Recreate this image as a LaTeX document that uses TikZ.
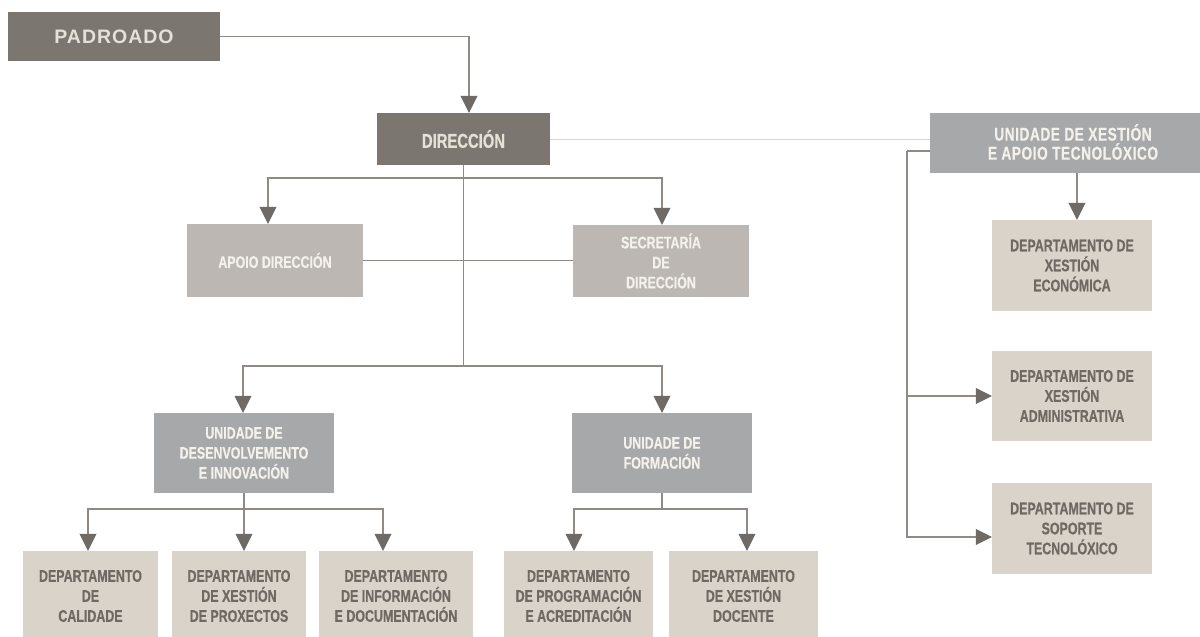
\documentclass[tikz,border=0pt]{standalone}
\usepackage{fontspec}
\setmainfont{Liberation Sans}
\newfontfamily\condf{Liberation Sans}[FakeStretch=0.74,FakeBold=0.5]
\newfontfamily\padf{Liberation Sans}[LetterSpace=5]
\usetikzlibrary{arrows.meta}
\definecolor{darkbox}{HTML}{7B766F}
\definecolor{graybox}{HTML}{A7A8AA}
\definecolor{lightbox}{HTML}{BCB7B2}
\definecolor{deptbox}{HTML}{D9D3C9}
\definecolor{depttext}{HTML}{6E6962}
\definecolor{paletext}{HTML}{F4F1EC}
\definecolor{padtext}{HTML}{E6E0D6}
\definecolor{linec}{HTML}{8F8A85}
\definecolor{arrowc}{HTML}{6F6A65}
\definecolor{thinc}{HTML}{D6D6D6}
\begin{document}
\begin{tikzpicture}[x=1pt,y=-1pt,
  box/.style={rectangle, inner sep=0pt, align=center,
    font=\condf\bfseries\fontsize{16.8}{20}\selectfont},
  darkstyle/.style={box, fill=darkbox, text=padtext},
  graystyle/.style={box, fill=graybox, text=paletext},
  lightstyle/.style={box, fill=lightbox, text=paletext},
  deptstyle/.style={box, fill=deptbox, text=depttext},
  conn/.style={draw=linec, line width=1.8pt},
  thinline/.style={draw=thinc, line width=1pt},
  arr/.style={conn, -{Triangle[width=17pt,length=17pt,line width=0.4pt,color=arrowc]}},
  arrh/.style={conn, -{Triangle[width=16pt,length=16pt,line width=0.4pt,color=arrowc]}}
]
\path[use as bounding box] (0,0) rectangle (1200,637);
\clip (0,0) rectangle (1200,637);

% boxes
\node[darkstyle, minimum width=212, minimum height=49,
  font=\padf\bfseries\fontsize{19.5}{22}\selectfont] (pad) at (114,36.5) {PADROADO};
\node[darkstyle, minimum width=173, minimum height=52,
  font=\condf\bfseries\fontsize{20}{22}\selectfont] (dir) at (463.5,139) {DIRECCIÓN};
\node[graystyle, minimum width=270, minimum height=60] (uxt) at (1065,143) {};
\node[box, text=paletext,
  font=\condf\bfseries\addfontfeature{LetterSpace=3}\fontsize{18.5}{19}\selectfont]
  (uxttext) at (1073,142) {UNIDADE DE XESTIÓN\\E APOIO TECNOLÓXICO};
\node[lightstyle, minimum width=176, minimum height=73] (apoio) at (275,260.5) {APOIO DIRECCIÓN};
\node[lightstyle, minimum width=176, minimum height=72] (sec) at (661,261) {SECRETARÍA\\DE\\DIRECCIÓN};
\node[graystyle, minimum width=180, minimum height=80] (udi) at (244,453) {UNIDADE DE\\DESENVOLVEMENTO\\E INNOVACIÓN};
\node[graystyle, minimum width=180, minimum height=80] (uf) at (662,453) {UNIDADE DE\\FORMACIÓN};

\node[deptstyle, minimum width=135, minimum height=90] (dc) at (90.5,596) {DEPARTAMENTO\\DE\\CALIDADE};
\node[deptstyle, minimum width=134, minimum height=90] (dxp) at (239,596) {DEPARTAMENTO\\DE XESTIÓN\\DE PROXECTOS};
\node[deptstyle, minimum width=154, minimum height=90] (did) at (396,596) {DEPARTAMENTO\\DE INFORMACIÓN\\E DOCUMENTACIÓN};
\node[deptstyle, minimum width=149, minimum height=90] (dpa) at (578.5,596) {DEPARTAMENTO\\DE PROGRAMACIÓN\\E ACREDITACIÓN};
\node[deptstyle, minimum width=149, minimum height=90] (dxd) at (743.5,596) {DEPARTAMENTO\\DE XESTIÓN\\DOCENTE};

\node[deptstyle, minimum width=160, minimum height=91] (dxe) at (1072,265.5) {DEPARTAMENTO DE\\XESTIÓN\\ECONÓMICA};
\node[deptstyle, minimum width=160, minimum height=90] (dxa) at (1072,396) {DEPARTAMENTO DE\\XESTIÓN\\ADMINISTRATIVA};
\node[deptstyle, minimum width=160, minimum height=91] (dst) at (1072,528.5) {DEPARTAMENTO DE\\SOPORTE\\TECNOLÓXICO};

% junctions
\coordinate (j1) at (463.5,178);
\coordinate (j2) at (463.5,366);
\coordinate (j3) at (244,509);
\coordinate (j4) at (662,509);
\coordinate (k1) at (907,151);
\coordinate (k2) at (907,396);

% connectors
\draw[arr] (pad.east) -| ([xshift=5.5pt]dir.north);
\draw[thinline] (dir.east) -- (dir.east -| uxt.west);
\draw[conn] (dir.south) -- (j2);
\draw[arr] (j1) -| ([xshift=-7pt]apoio.north);
\draw[arr] (j1) -| ([xshift=1pt]sec.north);
\draw[conn] (apoio.east) -- (apoio.east -| sec.west);
\draw[arr] (j2) -| ([xshift=-1pt]udi.north);
\draw[arr] (j2) -| (uf.north);

\draw[conn] (udi.south) -- (j3);
\draw[arr] (j3) -| ([xshift=-2.5pt]dc.north);
\draw[arr] (j3) -- (j3 |- dxp.north);
\draw[arr] (j3) -| ([xshift=-13pt]did.north);

\draw[conn] (uf.south) -- (j4);
\draw[arr] (j4) -| ([xshift=-4.5pt]dpa.north);
\draw[arr] (j4) -| ([xshift=3.5pt]dxd.north);

\draw[arr] ([xshift=12pt]uxt.south) -- ([xshift=5pt]dxe.north);
\draw[conn] ([yshift=-8pt]uxt.west) -- (k1);
\draw[arrh] (k1) |- ([yshift=-8.5pt]dst.west);
\draw[arrh] (k2) -- (dxa.west);
\end{tikzpicture}
\end{document}
